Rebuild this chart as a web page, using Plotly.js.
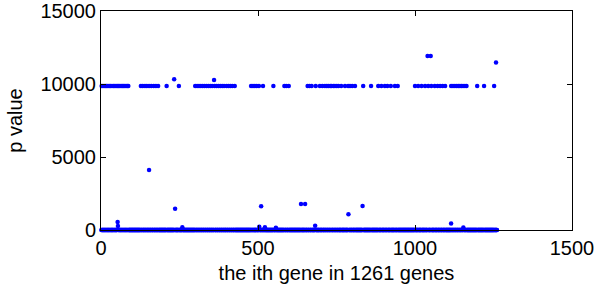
<!DOCTYPE html>
<html>
<head>
<meta charset="utf-8">
<script src="https://cdn.plot.ly/plotly-3.0.1.min.js"></script>
<style>
  body { margin: 0; background: #fff; }
  #chart { width: 600px; height: 288px; }
</style>
</head>
<body>
<div id="chart"></div>
<script>
const geneCount = 1261;

// genes sitting on the ~10000 band
const bandGenes = [
  2, 6, 10, 14, 18, 22, 26, 30, 35, 40, 44, 48, 52, 56, 60, 64, 68, 72, 76, 80, 84, 87,
  127, 133, 140, 146, 153, 160, 168, 175, 182, 209, 248,
  300, 306, 312, 318, 324, 330, 336, 342, 348, 354, 362, 368, 374, 380, 386, 392, 400, 406, 412, 418, 426,
  478, 484, 490, 496, 503, 516, 549, 584, 590, 598,
  658, 664, 671, 684, 697, 705, 713, 719, 724, 730, 734, 740, 745, 751, 756, 765, 777, 787, 793, 800, 809,
  835, 860, 883, 893, 904, 912, 923, 936, 945,
  1000, 1010, 1021, 1032, 1042, 1052, 1063, 1072, 1080, 1088, 1096,
  1115, 1121, 1127, 1133, 1138, 1143, 1148, 1153, 1159, 1164,
  1198, 1220, 1252
];
const bandP = 9870;

// genes off the band / off the baseline
const otherGenes = [233, 360, 1040, 1050, 1258,
  53, 54, 153, 236, 259, 504, 510, 522, 557, 637, 650, 682, 788, 833, 1115, 1154];
const otherP = [10330, 10270, 11920, 11920, 11480,
  550, 270, 4110, 1450, 180, 220, 1620, 180, 150, 1780, 1780, 290, 1080, 1640, 450, 170];

const xTicks = [0, 500, 1000, 1500];
const yTicks = [0, 5000, 10000, 15000];

// every other gene sits at ~0
const baseGenes = [];
for (let g = 1; g <= geneCount; g++) {
  if (!bandGenes.includes(g) && !otherGenes.includes(g)) baseGenes.push(g);
}

const xs = baseGenes.concat(bandGenes, otherGenes);
const ys = baseGenes.map(() => 0)
  .concat(bandGenes.map(() => bandP), otherP);

const data = [
  {
    x: xs,
    y: ys,
    type: "scatter",
    mode: "markers",
    cliponaxis: false,
    marker: { color: "#0000ff", size: 4.5 },
    hoverinfo: "x+y",
  },
];

const axisStyle = {
  showline: true,
  linecolor: "#000",
  linewidth: 1,
  mirror: "ticks",
  ticks: "inside",
  ticklen: 5,
  tickcolor: "#000",
  showgrid: false,
  zeroline: false,
  ticklabeloverflow: "allow",
  tickfont: { size: 20, color: "#000" },
};

const layout = {
  width: 600,
  height: 288,
  margin: { l: 101, r: 28, t: 11, b: 58 },
  paper_bgcolor: "#fff",
  plot_bgcolor: "#fff",
  font: { family: "Liberation Sans, Arial, sans-serif", size: 20, color: "#000" },
  showlegend: false,
  xaxis: Object.assign({}, axisStyle, {
    range: [0, 1500],
    tickvals: xTicks,
    ticktext: xTicks.map(String),
    title: { text: "the ith gene in 1261 genes", font: { size: 20 }, standoff: 7 },
  }),
  yaxis: Object.assign({}, axisStyle, {
    range: [0, 15000],
    tickvals: yTicks,
    ticktext: yTicks.map(String),
    title: { text: "p value", font: { size: 20 }, standoff: 12 },
  }),
};

Plotly.newPlot("chart", data, layout, { displayModeBar: false });
</script>
</body>
</html>
